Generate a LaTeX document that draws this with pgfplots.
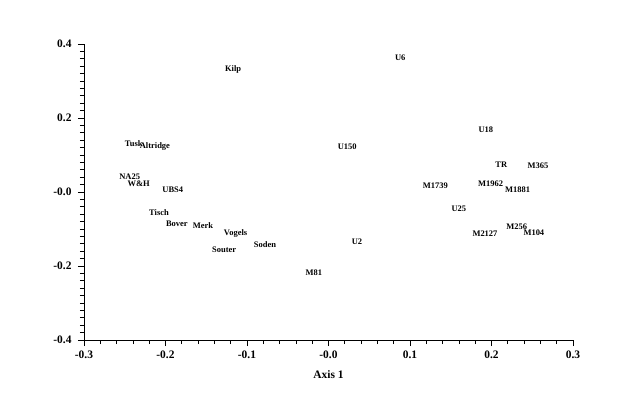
\documentclass[border=0pt]{standalone}
\usepackage{fontspec}
\setmainfont{Liberation Serif}
\usepackage{pgfplots}
\pgfplotsset{compat=1.18}

\begin{document}
\begin{tikzpicture}
\begin{axis}[
    scale only axis,
    width=489bp, height=296bp,
    xmin=-0.3, xmax=0.3, ymin=-0.4, ymax=0.4,
    axis x line=bottom, axis y line=left,
    axis line style={-, black, line width=0.9pt},
    tick align=outside,
    tick style={black, line width=0.7pt},
    major tick length=6bp, minor tick length=4bp,
    xtick={-0.3,-0.2,-0.1,0,0.1,0.2,0.3},
    xticklabels={-0.3,-0.2,-0.1,-0.0,0.1,0.2,0.3},
    ytick={-0.4,-0.2,0,0.2,0.4},
    yticklabels={-0.4,-0.2,-0.0,0.2,0.4},
    minor x tick num=4, minor y tick num=9,
    ticklabel style={font=\fontsize{11.5}{13}\selectfont\bfseries},
    xticklabel style={yshift=-1bp},
    yticklabel style={xshift=-3bp},
    xlabel={Axis 1},
    xlabel style={font=\fontsize{11.5}{13}\selectfont\bfseries, yshift=-5bp},
    clip=false,
]
\addplot[only marks, mark size=0pt, draw=none,
    nodes near coords, point meta=explicit symbolic,
    nodes near coords style={anchor=center, inner sep=0pt,
        font=\fontsize{8.5}{9}\selectfont\bfseries}]
coordinates {
(-0.117,0.332) [Kilp]
(0.088,0.362) [U6]
(-0.239,0.130) [Tusk]
(-0.213,0.124) [Altridge]
(0.023,0.122) [U150]
(0.193,0.168) [U18]
(0.212,0.073) [TR]
(0.257,0.070) [M365]
(-0.244,0.041) [NA25]
(-0.233,0.022) [W\&H]
(-0.191,0.005) [UBS4]
(0.131,0.016) [M1739]
(0.199,0.022) [M1962]
(0.232,0.005) [M1881]
(0.160,-0.046) [U25]
(-0.208,-0.057) [Tisch]
(-0.186,-0.086) [Bover]
(-0.154,-0.092) [Merk]
(-0.114,-0.111) [Vogels]
(-0.078,-0.141) [Soden]
(-0.128,-0.157) [Souter]
(0.035,-0.135) [U2]
(-0.018,-0.219) [M81]
(0.192,-0.114) [M2127]
(0.231,-0.095) [M256]
(0.252,-0.111) [M104]
};
\end{axis}
\useasboundingbox (-84bp,-73bp) rectangle (540bp,340bp);
\end{tikzpicture}
\end{document}
